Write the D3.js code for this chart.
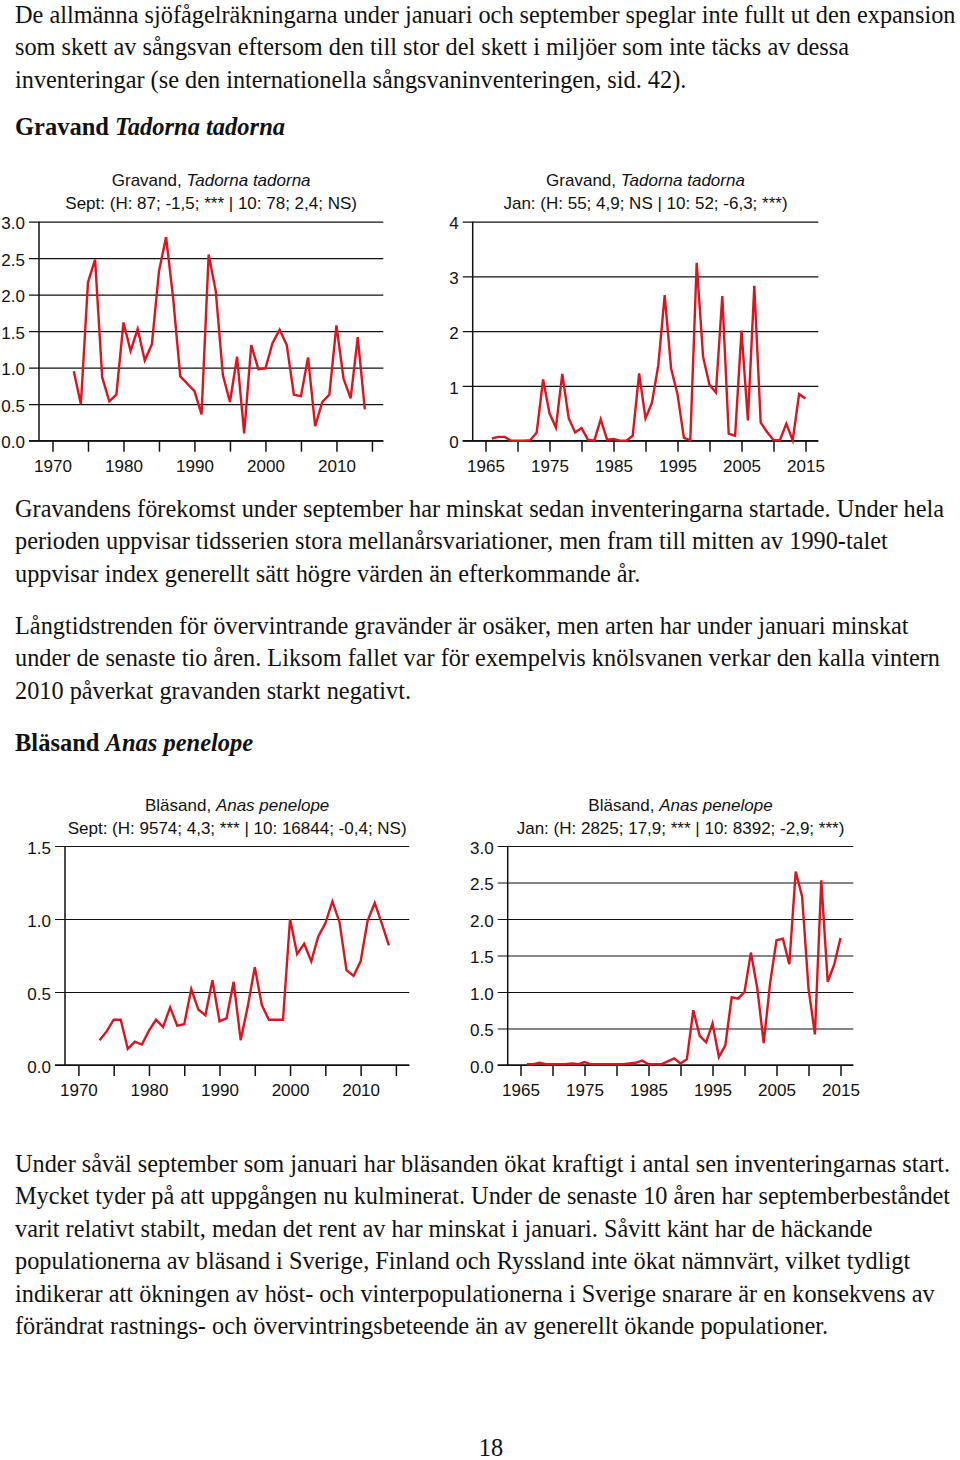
<!DOCTYPE html>
<html>
<head>
<meta charset="utf-8">
<script src="https://cdn.jsdelivr.net/npm/d3@7"></script>
<style>
  body { margin: 0; background: #fff; }
  .body-text { font-family: "Liberation Serif", "Times New Roman", serif; font-size: 24.3px; fill: #111; }
  .heading { font-family: "Liberation Serif", "Times New Roman", serif; font-size: 24.5px; font-weight: bold; fill: #111; }
  .chart-title { font-family: "Liberation Sans", Arial, sans-serif; font-size: 17px; fill: #111; }
  .tick text { font-family: "Liberation Sans", Arial, sans-serif; font-size: 17px; fill: #111; }
</style>
</head>
<body>
<div id="page"></div>
<script>
// Gravand, Tadorna tadorna - september index (1973-2014)
const gravand_sept_start = 1973;
const gravand_sept = [0.95, 0.50, 2.17, 2.48, 0.87, 0.54, 0.63, 1.62, 1.23, 1.53,
    1.10, 1.32, 2.32, 2.79, 1.95, 0.88, 0.78, 0.68, 0.36, 2.55,
    2.05, 0.90, 0.53, 1.15, 0.10, 1.31, 0.98, 0.99, 1.34, 1.52,
    1.31, 0.63, 0.61, 1.14, 0.20, 0.53, 0.63, 1.58, 0.85, 0.58,
    1.42, 0.43];

// Gravand - januari index (1966-2015)
const gravand_jan_start = 1966;
const gravand_jan = [0.04, 0.07, 0.07, 0.00, 0.00, 0.00, 0.01, 0.15, 1.12, 0.50,
    0.24, 1.22, 0.41, 0.15, 0.23, 0.02, 0.00, 0.39, 0.02, 0.03,
    0.00, 0.00, 0.09, 1.23, 0.41, 0.69, 1.38, 2.66, 1.32, 0.85,
    0.05, 0.01, 3.25, 1.53, 1.02, 0.88, 2.64, 0.13, 0.09, 2.01,
    0.37, 2.83, 0.33, 0.16, 0.01, 0.01, 0.31, 0.01, 0.85, 0.77];

// Bläsand, Anas penelope - september index (1973-2014)
const blasand_sept_start = 1973;
const blasand_sept = [0.17, 0.23, 0.31, 0.31, 0.11, 0.16, 0.14, 0.235, 0.31, 0.26,
    0.395, 0.27, 0.28, 0.52, 0.38, 0.34, 0.58, 0.30, 0.32, 0.57,
    0.17, 0.40, 0.67, 0.41, 0.31, 0.31, 0.31, 1.00, 0.76, 0.83,
    0.71, 0.88, 0.97, 1.12, 0.98, 0.65, 0.61, 0.71, 0.99, 1.11,
    0.97, 0.82];

// Bläsand - januari index (1966-2015)
const blasand_jan_start = 1966;
const blasand_jan = [0.01, 0.01, 0.03, 0.01, 0.01, 0.01, 0.01, 0.02, 0.01, 0.04,
    0.01, 0.01, 0.01, 0.01, 0.01, 0.01, 0.02, 0.03, 0.06, 0.01,
    0.01, 0.01, 0.05, 0.09, 0.02, 0.08, 0.75, 0.40, 0.31, 0.57,
    0.11, 0.27, 0.93, 0.91, 1.00, 1.54, 1.05, 0.30, 1.12, 1.71,
    1.73, 1.38, 2.65, 2.31, 1.05, 0.42, 2.53, 1.14, 1.37, 1.74];

// tick values
const sept_x_ticks = [1970, 1975, 1980, 1985, 1990, 1995, 2000, 2005, 2010, 2015];
const sept_x_labels = [1970, 1980, 1990, 2000, 2010];
const jan_x_ticks = [1965, 1970, 1975, 1980, 1985, 1990, 1995, 2000, 2005, 2010, 2015];
const jan_x_labels = [1965, 1975, 1985, 1995, 2005, 2015];
const gravand_sept_y_ticks = [0, 0.5, 1, 1.5, 2, 2.5, 3];
const gravand_jan_y_ticks = [0, 1, 2, 3, 4];
const blasand_sept_y_ticks = [0, 0.5, 1, 1.5];
const blasand_jan_y_ticks = [0, 0.5, 1, 1.5, 2, 2.5, 3];

// text
const para1 = [
    "De allmänna sjöfågelräkningarna under januari och september speglar inte fullt ut den expansion",
    "som skett av sångsvan eftersom den till stor del skett i miljöer som inte täcks av dessa",
    "inventeringar (se den internationella sångsvaninventeringen, sid. 42)."
];
const para2 = [
    "Gravandens förekomst under september har minskat sedan inventeringarna startade. Under hela",
    "perioden uppvisar tidsserien stora mellanårsvariationer, men fram till mitten av 1990-talet",
    "uppvisar index generellt sätt högre värden än efterkommande år."
];
const para3 = [
    "Långtidstrenden för övervintrande gravänder är osäker, men arten har under januari minskat",
    "under de senaste tio åren. Liksom fallet var för exempelvis knölsvanen verkar den kalla vintern",
    "2010 påverkat gravanden starkt negativt."
];
const para4 = [
    "Under såväl september som januari har bläsanden ökat kraftigt i antal sen inventeringarnas start.",
    "Mycket tyder på att uppgången nu kulminerat. Under de senaste 10 åren har septemberbeståndet",
    "varit relativt stabilt, medan det rent av har minskat i januari. Såvitt känt har de häckande",
    "populationerna av bläsand i Sverige, Finland och Ryssland inte ökat nämnvärt, vilket tydligt",
    "indikerar att ökningen av höst- och vinterpopulationerna i Sverige snarare är en konsekvens av",
    "förändrat rastnings- och övervintringsbeteende än av generellt ökande populationer."
];

const svg = d3.select("#page")
  .append("svg")
    .attr("width", 960)
    .attr("height", 1460);

svg.append("rect").attr("width", 960).attr("height", 1460).attr("fill", "#fff");

function draw_paragraph(lines, x, y0){
    const line_height = 32.4;
    lines.forEach((line, i) => {
        svg.append("text")
            .attr("class", "body-text")
            .attr("x", x)
            .attr("y", y0 + i * line_height)
            .text(line);
    });
}

function draw_heading(name, latin, x, y){
    const t = svg.append("text").attr("class", "heading").attr("x", x).attr("y", y);
    t.append("tspan").text(name + " ");
    t.append("tspan").style("font-style", "italic").text(latin);
}

function draw_chart(c){
    const x = d3.scaleLinear().domain(c.xdomain).range([c.left, c.right]);
    const y = d3.scaleLinear().domain([0, c.ymax]).range([c.bottom, c.top]);
    const g = svg.append("g");
    const ext = 10; // gridlines stick out left of the y axis

    // gridlines + y labels
    const ya = g.append("g")
        .attr("transform", `translate(${c.left - ext},0)`)
        .call(d3.axisLeft(y)
            .tickValues(c.yticks)
            .tickSize(-(c.right - c.left + ext))
            .tickPadding(4)
            .tickFormat(c.yformat));
    ya.select(".domain").remove();
    ya.selectAll(".tick line").attr("stroke", "#111").attr("stroke-width", 1.2);
    ya.selectAll(".tick text").attr("dy", "0.42em");

    // x axis ticks
    const xa = g.append("g")
        .attr("transform", `translate(0,${c.bottom})`)
        .call(d3.axisBottom(x)
            .tickValues(c.xticks)
            .tickSize(11)
            .tickPadding(8)
            .tickFormat(d => c.xlabels.includes(d) ? d : ""));
    xa.select(".domain").remove();
    xa.selectAll(".tick line").attr("stroke", "#111").attr("stroke-width", 1.5);

    // axis lines
    g.append("line")
        .attr("x1", c.left).attr("x2", c.left)
        .attr("y1", c.top).attr("y2", c.bottom)
        .attr("stroke", "#111").attr("stroke-width", 1.5);
    g.append("line")
        .attr("x1", c.left - ext).attr("x2", c.right)
        .attr("y1", c.bottom).attr("y2", c.bottom)
        .attr("stroke", "#111").attr("stroke-width", 1.5);

    // series
    const points = c.values.map((v, i) => ({year: c.start + i, value: v}));
    g.append("path")
        .datum(points)
        .attr("fill", "none")
        .attr("stroke", "#dc1420")
        .attr("stroke-width", 2.4)
        .attr("d", d3.line().x(d => x(d.year)).y(d => y(d.value)));

    // titles
    const cx = (c.left + c.right) / 2;
    const t = g.append("text")
        .attr("class", "chart-title")
        .attr("text-anchor", "middle")
        .attr("x", cx)
        .attr("y", c.title_y);
    t.append("tspan").text(c.title[0]);
    t.append("tspan").style("font-style", "italic").text(c.title[1]);
    g.append("text")
        .attr("class", "chart-title")
        .attr("text-anchor", "middle")
        .attr("x", cx)
        .attr("y", c.title_y + 23)
        .text(c.subtitle);
}

draw_paragraph(para1, 15, 23);
draw_heading("Gravand", "Tadorna tadorna", 15, 134.5);

draw_chart({
    left: 39, right: 383.3, top: 221.7, bottom: 440.7,
    xdomain: [1968.1, 2016.6], ymax: 3,
    xticks: sept_x_ticks, xlabels: sept_x_labels,
    yticks: gravand_sept_y_ticks, yformat: d3.format(".1f"),
    start: gravand_sept_start, values: gravand_sept,
    title: ["Gravand, ", "Tadorna tadorna"],
    subtitle: "Sept: (H: 87; -1,5; *** | 10: 78; 2,4; NS)",
    title_y: 186
});

draw_chart({
    left: 472.7, right: 818.3, top: 221.7, bottom: 440.7,
    xdomain: [1963, 2017], ymax: 4,
    xticks: jan_x_ticks, xlabels: jan_x_labels,
    yticks: gravand_jan_y_ticks, yformat: d3.format("d"),
    start: gravand_jan_start, values: gravand_jan,
    title: ["Gravand, ", "Tadorna tadorna"],
    subtitle: "Jan: (H: 55; 4,9; NS | 10: 52; -6,3; ***)",
    title_y: 186
});

draw_paragraph(para2, 15, 517);
draw_paragraph(para3, 15, 634);
draw_heading("Bläsand", "Anas penelope", 15, 751);

draw_chart({
    left: 65, right: 409.3, top: 846, bottom: 1065,
    xdomain: [1968.1, 2016.9], ymax: 1.5,
    xticks: sept_x_ticks, xlabels: sept_x_labels,
    yticks: blasand_sept_y_ticks, yformat: d3.format(".1f"),
    start: blasand_sept_start, values: blasand_sept,
    title: ["Bläsand, ", "Anas penelope"],
    subtitle: "Sept: (H: 9574; 4,3; *** | 10: 16844; -0,4; NS)",
    title_y: 811
});

draw_chart({
    left: 507.7, right: 853.3, top: 846, bottom: 1065,
    xdomain: [1963, 2017], ymax: 3,
    xticks: jan_x_ticks, xlabels: jan_x_labels,
    yticks: blasand_jan_y_ticks, yformat: d3.format(".1f"),
    start: blasand_jan_start, values: blasand_jan,
    title: ["Bläsand, ", "Anas penelope"],
    subtitle: "Jan: (H: 2825; 17,9; *** | 10: 8392; -2,9; ***)",
    title_y: 811
});

draw_paragraph(para4, 15, 1172);

svg.append("text")
    .attr("class", "body-text")
    .attr("text-anchor", "middle")
    .attr("x", 491)
    .attr("y", 1456)
    .text("18");
</script>
</body>
</html>
